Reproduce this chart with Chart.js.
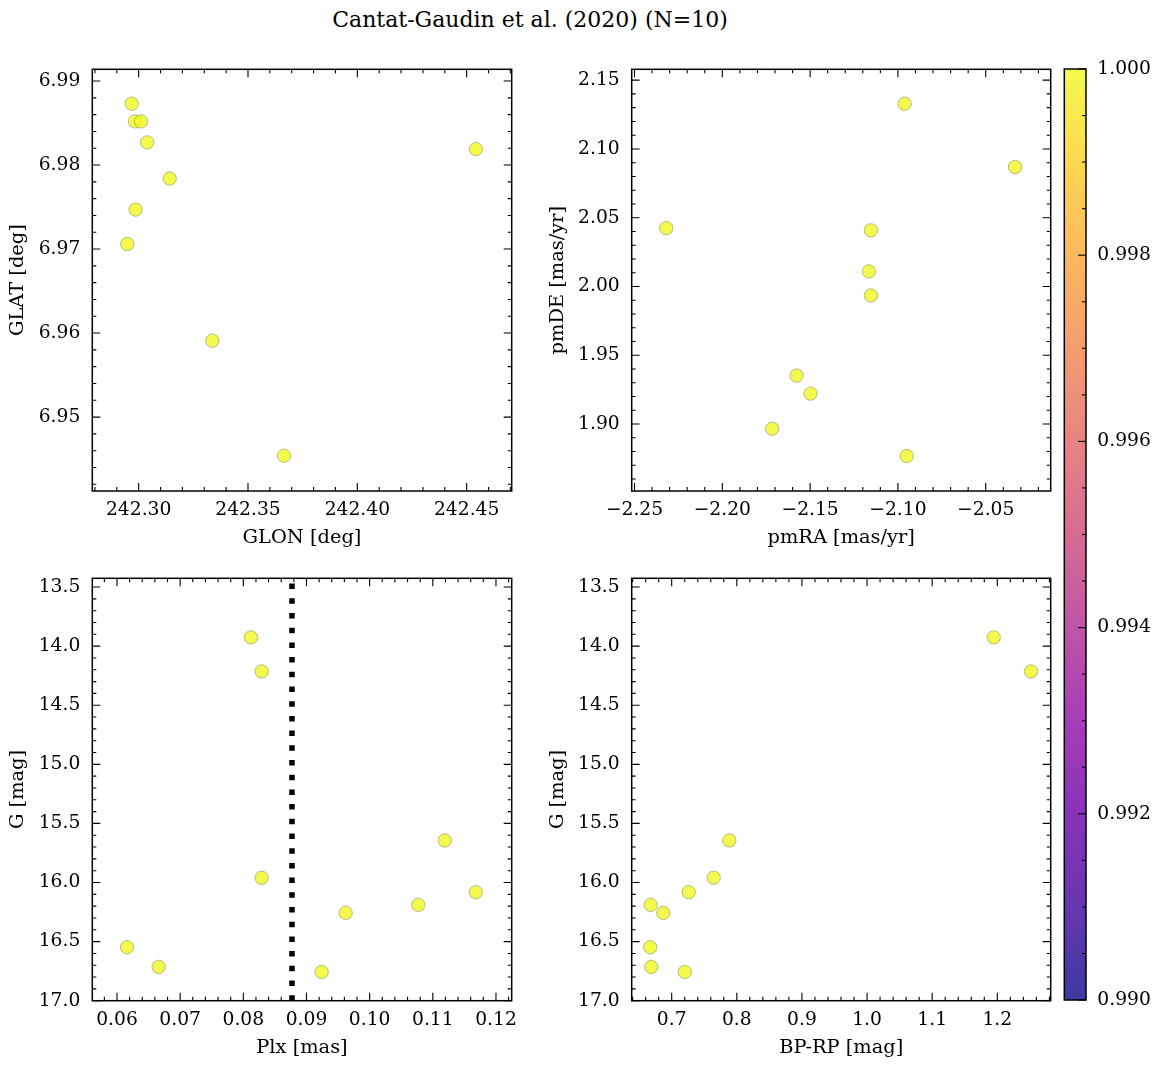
<!DOCTYPE html>
<html>
<head>
<meta charset="utf-8">
<script src="https://cdn.jsdelivr.net/npm/chart.js@4.4.1/dist/chart.umd.min.js"></script>
<style>
  html, body { margin: 0; padding: 0; background: #fff; }
  body { width: 1161px; height: 1068px; position: relative; overflow: hidden; font-family: 'DejaVu Serif', serif; }
  canvas { position: absolute; }
  #title { position: absolute; left: 30px; top: 0; width: 1000px; line-height: 40px; text-align: center; font-size: 22px; color: #000; }
</style>
</head>
<body>
<div id="title">Cantat-Gaudin et al. (2020) (N=10)</div>
<canvas id="posChart"></canvas>
<canvas id="pmChart"></canvas>
<canvas id="plxChart"></canvas>
<canvas id="cmdChart"></canvas>
<canvas id="cbar"></canvas>
<script>
// member stars
const glon = [242.2968, 242.2983, 242.3011, 242.3039, 242.3142, 242.2986, 242.2948, 242.3337, 242.3665, 242.4542];
const glat = [6.9873, 6.9852, 6.9852, 6.9827, 6.9784, 6.9747, 6.9706, 6.9591, 6.9454, 6.9819];
const pmra = [-2.0962, -2.0333, -2.2319, -2.1154, -2.1165, -2.1154, -2.1577, -2.1498, -2.1716, -2.0950];
const pmde = [2.1329, 2.0869, 2.0424, 2.0408, 2.0109, 1.9935, 1.9352, 1.9221, 1.8966, 1.8767];
const gmag = [13.926, 14.214, 15.644, 15.960, 16.082, 16.189, 16.257, 16.548, 16.714, 16.757];
const plx = [0.0812, 0.0829, 0.1119, 0.0829, 0.1168, 0.1077, 0.0962, 0.0616, 0.0666, 0.0924];
const bprp = [1.1945, 1.2518, 0.7885, 0.7645, 0.7261, 0.6678, 0.6871, 0.6671, 0.6687, 0.7200];
const memb = [1, 1, 1, 1, 1, 1, 1, 1, 1, 1];
const plxMean = 0.0877;

// tick labels
const glonTicks = [242.30, 242.35, 242.40, 242.45];
const glatTicks = [6.95, 6.96, 6.97, 6.98, 6.99];
const pmraTicks = [-2.25, -2.20, -2.15, -2.10, -2.05];
const pmdeTicks = [1.90, 1.95, 2.00, 2.05, 2.10, 2.15];
const plxTicks = [0.06, 0.07, 0.08, 0.09, 0.10, 0.11, 0.12];
const gTicks = [13.5, 14.0, 14.5, 15.0, 15.5, 16.0, 16.5, 17.0];
const bprpTicks = [0.7, 0.8, 0.9, 1.0, 1.1, 1.2];
const cbTicks = [0.990, 0.992, 0.994, 0.996, 0.998, 1.000];

// axis limits
const glonLim = [242.2788, 242.4706];
const glatLim = [6.9412, 6.9914];
const pmraLim = [-2.2516, -2.0130];
const pmdeLim = [1.8513, 2.1579];
const plxLim = [0.05609, 0.12249];
const gLim = [13.426, 17.0];
const bprpLim = [0.6386, 1.282];
const cbLim = [0.990, 1.000];

const FONT = "'DejaVu Serif', serif";
const TICK_PX = 18.7;
const LABEL_PX = 19.4;
const LH = LABEL_PX * 1.2;

const plasmaStops = ['#0d0887', '#41049d', '#6a00a8', '#8f0da4', '#b12a90', '#cc4778',
  '#e16462', '#f2844b', '#fca636', '#fcce25', '#f0f921'];

function hexRgb(h) {
  return [parseInt(h.slice(1, 3), 16), parseInt(h.slice(3, 5), 16), parseInt(h.slice(5, 7), 16)];
}

function plasma(v, alpha) {
  let t = (v - cbLim[0]) / (cbLim[1] - cbLim[0]);
  t = Math.max(0, Math.min(1, t));
  const pos = t * (plasmaStops.length - 1);
  const i = Math.min(Math.floor(pos), plasmaStops.length - 2);
  const f = pos - i;
  const a = hexRgb(plasmaStops[i]);
  const b = hexRgb(plasmaStops[i + 1]);
  const c = a.map((ch, k) => Math.round(ch + (b[k] - ch) * f));
  return `rgba(${c[0]},${c[1]},${c[2]},${alpha})`;
}

const fmt = (dec) => (v) => Number(v).toFixed(dec).replace('-', '\u2212');

// frame + inward ticks on all four sides
const framePlugin = {
  id: 'frame',
  afterDatasetsDraw(chart, args, opts) {
    const { ctx, chartArea: a } = chart;
    ctx.save();
    ctx.strokeStyle = '#000';
    ctx.lineWidth = 1.1;
    const drawTicks = (scale, majors, nMinor, sides) => {
      const ms = (majors[1] - majors[0]) / nMinor;
      const lo = Math.min(scale.min, scale.max);
      const hi = Math.max(scale.min, scale.max);
      const vals = [];
      for (let v = majors[0]; v >= lo - ms * 0.01; v -= ms) vals.push(v);
      for (let v = majors[0] + ms; v <= hi + ms * 0.01; v += ms) vals.push(v);
      vals.forEach((v) => {
        if (v < lo - ms * 0.01 || v > hi + ms * 0.01) return;
        const major = majors.some((m) => Math.abs(m - v) < ms * 0.05);
        const len = major ? 8 : 4;
        const p = scale.getPixelForValue(v);
        ctx.beginPath();
        if (scale.isHorizontal()) {
          if (sides.includes('b')) { ctx.moveTo(p, a.bottom); ctx.lineTo(p, a.bottom - len); }
          if (sides.includes('t')) { ctx.moveTo(p, a.top); ctx.lineTo(p, a.top + len); }
        } else {
          if (sides.includes('l')) { ctx.moveTo(a.left, p); ctx.lineTo(a.left + len, p); }
          if (sides.includes('r')) { ctx.moveTo(a.right, p); ctx.lineTo(a.right - len, p); }
        }
        ctx.stroke();
      });
    };
    if (opts.x) drawTicks(chart.scales.x, opts.x.ticks, opts.x.minor, 'bt');
    if (opts.y) drawTicks(chart.scales.y, opts.y.ticks, opts.y.minor, opts.y.sides || 'lr');
    ctx.lineWidth = 1.5;
    ctx.strokeRect(a.left, a.top, a.right - a.left, a.bottom - a.top);
    ctx.restore();
  }
};

function placeCanvas(id, box) {
  const cv = document.getElementById(id);
  cv.width = box.w;
  cv.height = box.h;
  cv.style.left = box.x + 'px';
  cv.style.top = box.y + 'px';
  cv.style.width = box.w + 'px';
  cv.style.height = box.h + 'px';
  return cv;
}

function axisOpts(lim, ticks, dec, title, size, extra) {
  return Object.assign({
    type: 'linear',
    min: lim[0],
    max: lim[1],
    afterFit: (s) => { if (s.isHorizontal()) s.height = size; else s.width = size; },
    afterBuildTicks: (s) => { s.ticks = ticks.map((v) => ({ value: v })); },
    grid: { display: false, drawTicks: false },
    border: { display: false },
    ticks: { font: { family: FONT, size: TICK_PX }, color: '#000', autoSkip: false, maxRotation: 0, callback: fmt(dec) },
    title: { display: true, text: title, font: { family: FONT, size: LABEL_PX }, color: '#000', padding: { top: 4, bottom: 4 } }
  }, extra || {});
}

function makePanel(id, box, plot, spec) {
  const cv = placeCanvas(id, box);
  const padL = (spec.yTitleX - LH / 2 - 4) - box.x;
  const yW = plot.l - box.x - padL;
  const xBottom = spec.xTitleY + LH / 2 + 4;
  const xH = xBottom - plot.b;
  const padB = box.y + box.h - xBottom;
  const padT = plot.t - box.y;
  const padR = box.x + box.w - plot.r;

  const datasets = [{
    type: 'scatter',
    data: spec.xs.map((x, i) => ({ x: x, y: spec.ys[i] })),
    pointRadius: 6.7,
    pointHoverRadius: 6.7,
    backgroundColor: memb.map((v) => plasma(v, 0.8)),
    borderColor: 'rgba(115,115,90,0.6)',
    borderWidth: 0.8
  }].concat(spec.extra || []);

  const xAxis = axisOpts(spec.xLim, spec.xTicks, spec.xDec, spec.xTitle, xH, { position: 'bottom' });
  xAxis.ticks.padding = 8;
  const yAxis = axisOpts(spec.yLim, spec.yTicks, spec.yDec, spec.yTitle, yW, { position: 'left', reverse: !!spec.yReverse });
  yAxis.ticks.padding = 12;

  return new Chart(cv, {
    type: 'scatter',
    data: { datasets: datasets },
    options: {
      responsive: false,
      animation: false,
      events: [],
      layout: { padding: { left: padL, right: padR, top: padT, bottom: padB } },
      plugins: {
        legend: { display: false },
        tooltip: { enabled: false },
        frame: { x: { ticks: spec.xTicks, minor: 5 }, y: { ticks: spec.yTicks, minor: 5 } }
      },
      scales: { x: xAxis, y: yAxis }
    },
    plugins: [framePlugin]
  });
}

makePanel('posChart', { x: 0, y: 35, w: 540, h: 535 }, { l: 92.3, r: 511.7, t: 69.3, b: 491 }, {
  xs: glon, ys: glat, xLim: glonLim, yLim: glatLim, xTicks: glonTicks, yTicks: glatTicks,
  xDec: 2, yDec: 2, xTitle: 'GLON [deg]', yTitle: 'GLAT [deg]', yTitleX: 18, xTitleY: 538
});

makePanel('pmChart', { x: 535, y: 35, w: 525, h: 535 }, { l: 631.7, r: 1050.7, t: 69.3, b: 491 }, {
  xs: pmra, ys: pmde, xLim: pmraLim, yLim: pmdeLim, xTicks: pmraTicks, yTicks: pmdeTicks,
  xDec: 2, yDec: 2, xTitle: 'pmRA [mas/yr]', yTitle: 'pmDE [mas/yr]', yTitleX: 558, xTitleY: 538
});

makePanel('plxChart', { x: 0, y: 544, w: 540, h: 524 }, { l: 92.3, r: 511.7, t: 578.3, b: 1000.7 }, {
  xs: plx, ys: gmag, xLim: plxLim, yLim: gLim, xTicks: plxTicks, yTicks: gTicks, yReverse: true,
  xDec: 2, yDec: 1, xTitle: 'Plx [mas]', yTitle: 'G [mag]', yTitleX: 18, xTitleY: 1048,
  extra: [{
    type: 'line',
    data: [{ x: plxMean, y: gLim[1] }, { x: plxMean, y: gLim[0] }],
    borderColor: '#000',
    borderWidth: 5.5,
    borderDash: [5.5, 9.2],
    borderCapStyle: 'butt',
    pointRadius: 0,
    fill: false
  }]
});

makePanel('cmdChart', { x: 535, y: 544, w: 525, h: 524 }, { l: 631.7, r: 1050.7, t: 578.3, b: 1000.7 }, {
  xs: bprp, ys: gmag, xLim: bprpLim, yLim: gLim, xTicks: bprpTicks, yTicks: gTicks, yReverse: true,
  xDec: 1, yDec: 1, xTitle: 'BP-RP [mag]', yTitle: 'G [mag]', yTitleX: 558, xTitleY: 1048
});

// colorbar
const gradientPlugin = {
  id: 'cbgrad',
  beforeDatasetsDraw(chart) {
    const { ctx, chartArea: a } = chart;
    const g = ctx.createLinearGradient(0, a.bottom, 0, a.top);
    plasmaStops.forEach((c, i) => {
      const v = cbLim[0] + (cbLim[1] - cbLim[0]) * i / (plasmaStops.length - 1);
      g.addColorStop(i / (plasmaStops.length - 1), plasma(v, 0.8));
    });
    ctx.save();
    ctx.fillStyle = g;
    ctx.fillRect(a.left, a.top, a.right - a.left, a.bottom - a.top);
    ctx.restore();
  }
};

(function () {
  const box = { x: 1055, y: 35, w: 106, h: 1000 };
  const plot = { l: 1064.3, r: 1086, t: 69, b: 1000 };
  const cv = placeCanvas('cbar', box);
  const yAxis = axisOpts(cbLim, cbTicks, 3, '', box.x + box.w - plot.r, { position: 'right' });
  yAxis.title = { display: false };
  yAxis.ticks.padding = 11.3;
  new Chart(cv, {
    type: 'scatter',
    data: { datasets: [{ data: [] }] },
    options: {
      responsive: false,
      animation: false,
      events: [],
      layout: { padding: { left: plot.l - box.x, right: 0, top: plot.t - box.y, bottom: box.y + box.h - plot.b } },
      plugins: {
        legend: { display: false },
        tooltip: { enabled: false },
        frame: { y: { ticks: cbTicks, minor: 4, sides: 'r' } }
      },
      scales: {
        x: { type: 'linear', display: false, min: 0, max: 1 },
        y: yAxis
      }
    },
    plugins: [gradientPlugin, framePlugin]
  });
})();
</script>
</body>
</html>
